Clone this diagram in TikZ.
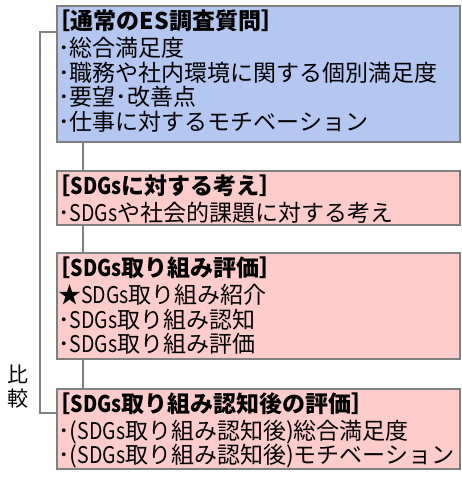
\documentclass[tikz,border=0pt]{standalone}
\usepackage{fontspec}
\setmainfont{Noto Sans CJK JP}
\newfontfamily\narrowlat[FakeStretch=0.85]{Noto Sans CJK JP}
\newcommand{\sdg}{{\narrowlat SDGs}}
\definecolor{boxblue}{RGB}{180,199,240}
\definecolor{boxpink}{RGB}{255,204,204}
\definecolor{linegray}{RGB}{128,128,128}
\tikzset{
  panel/.style={draw=linegray, line width=2pt, anchor=north west, inner sep=0pt, minimum width=403pt},
  panelblue/.style={panel, fill=boxblue},
  panelpink/.style={panel, fill=boxpink},
  paneltext/.style={anchor=north west, inner sep=0pt, align=left, font=\fontsize{23}{24.5}\selectfont},
  link/.style={draw=linegray, line width=2pt},
}
\newcommand{\hd}[1]{\textbf{\kern-0.45em［#1］}\\[2.5pt]}
\begin{document}
\begin{tikzpicture}[x=1pt,y=-1pt]
\useasboundingbox (0,0) rectangle (461,479);
\node[panelblue, minimum height=136pt] (b1) at (56,5) {};
\node[panelpink, minimum height=54pt] (b2) at (56,170) {};
\node[panelpink, minimum height=106pt] (b3) at (56,252) {};
\node[panelpink, minimum height=80pt] (b4) at (56,388) {};
\node[paneltext] (t1) at (58,10) {\hd{通常のES調査質問}･総合満足度\\･職務や社内環境に関する個別満足度\\･要望･改善点\\･仕事に対するモチベーション};
\node[paneltext] (t2) at (58,175) {\hd{\sdg に対する考え}･\sdg や社会的課題に対する考え};
\node[paneltext] (t3) at (58,257) {\hd{\sdg 取り組み評価}★\sdg 取り組み紹介\\･\sdg 取り組み認知\\･\sdg 取り組み評価};
\node[paneltext] (t4) at (58,392) {\hd{\sdg 取り組み認知後の評価}･(\sdg 取り組み認知後)総合満足度\\･(\sdg 取り組み認知後)モチベーション};
\coordinate (cx) at (83,0);
\draw[link] (b1.south -| cx) -- (b2.north -| cx);
\draw[link] (b2.south -| cx) -- (b3.north -| cx);
\draw[link] (b3.south -| cx) -- (b4.north -| cx);
\coordinate (bt) at (40,32);
\coordinate (bb) at (40,413);
\draw[link] (bt -| b1.west) -- (bt) -- (bb) -- (bb -| b4.west);
\node[align=center, inner sep=0pt, font=\fontsize{21}{24}\selectfont] (cmp) at (18,387) {比\\較};
\end{tikzpicture}
\end{document}
